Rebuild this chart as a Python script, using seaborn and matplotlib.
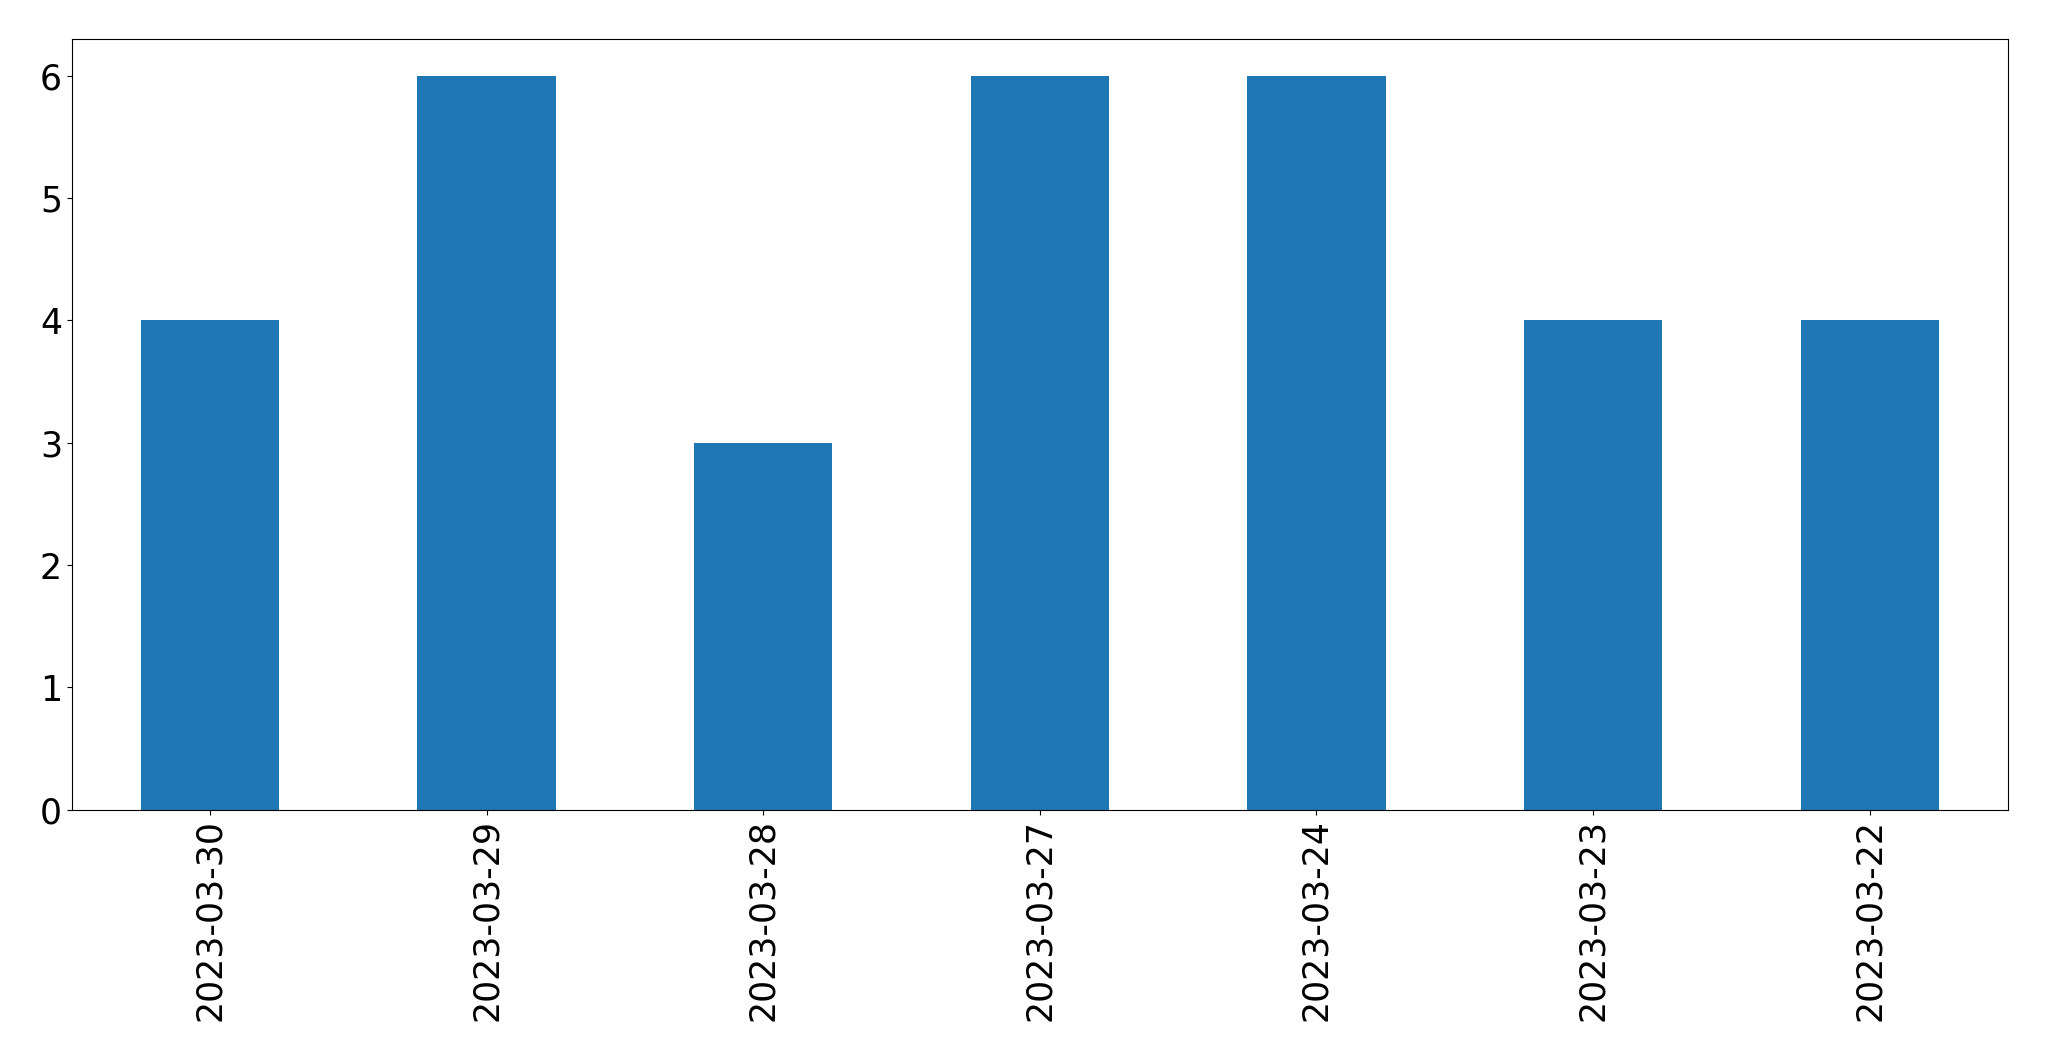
import matplotlib
matplotlib.use("Agg")
import matplotlib.pyplot as plt
import seaborn as sns
import pandas as pd

# Counts per date (newest first, as in the reference)
dates = ["2023-03-30", "2023-03-29", "2023-03-28", "2023-03-27",
         "2023-03-24", "2023-03-23", "2023-03-22"]
counts = [4, 6, 3, 6, 6, 4, 4]

df = pd.DataFrame({"date": dates, "count": counts})

fig, ax = plt.subplots(figsize=(20.49, 10.61), dpi=100)
sns.barplot(data=df, x="date", y="count", order=dates, color="#1f77b4",
            saturation=1, width=0.5, linewidth=0, ax=ax)

ax.set_xlim(-0.5, len(dates) - 0.5)
ax.set_ylim(0, 6.3)
ax.set_xlabel("")
ax.set_ylabel("")
ax.tick_params(axis="both", labelsize=25)
plt.xticks(rotation=90)

plt.subplots_adjust(left=0.035, right=0.98, top=0.963, bottom=0.237)
plt.savefig("out.png")
